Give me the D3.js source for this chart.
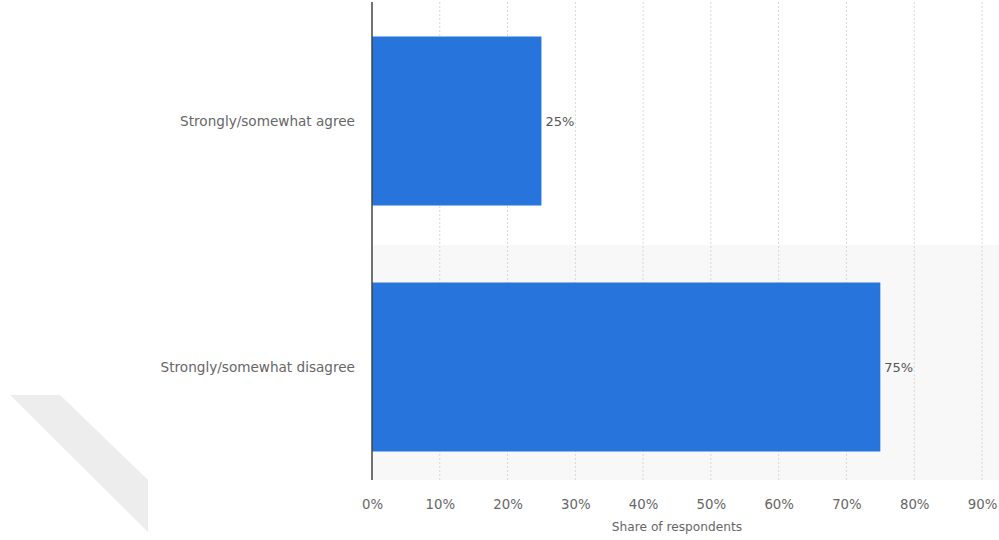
<!DOCTYPE html>
<html><head><meta charset="utf-8">
<script src="https://cdn.jsdelivr.net/npm/d3@7"></script>
<style>body{margin:0;background:#fff;}svg{display:block;font-family:"DejaVu Sans",sans-serif;}</style>
</head><body><svg id="c" width="999" height="540"></svg>
<script>
const categories = ["Strongly/somewhat agree", "Strongly/somewhat disagree"];
const values = [25, 75];
const ticks = [0,10,20,30,40,50,60,70,80,90];
const axisTitle = "Share of respondents";

const svg = d3.select("#c");
const m = {left:372, right:982, top:2, bottom:480};
const x = d3.scaleLinear().domain([0,90]).range([m.left, m.right]);
const y = d3.scaleBand().domain(categories).range([-2, 490]).paddingInner(0).paddingOuter(0);
const barH = 169;
const FONT = "'DejaVu Sans',sans-serif";

// watermark
svg.append("polygon").attr("points","10,395 60,395 148,480 148,532").attr("fill","#ededed");

// alternating band
svg.selectAll("rect.band").data(categories.filter((d,i)=>i%2===1)).enter().append("rect")
  .attr("x", m.left).attr("y", d=>y(d)+1).attr("width", 999-m.left).attr("height", d=>m.bottom-y(d)-1)
  .attr("fill","#f8f8f8");

// grid
svg.selectAll("line.grid").data(ticks.slice(1)).enter().append("line")
  .attr("x1", d=>x(d)).attr("x2", d=>x(d)).attr("y1", m.top).attr("y2", m.bottom)
  .attr("stroke","#d8d8d8").attr("stroke-dasharray","2,2").attr("stroke-width",1);

// bars
svg.selectAll("rect.bar").data(values).enter().append("rect")
  .attr("x", x(0)).attr("y", (d,i)=>y(categories[i])+(y.bandwidth()-barH)/2)
  .attr("width", d=>x(d)-x(0)).attr("height", barH)
  .attr("fill","#2775dc");

// value labels
svg.selectAll("text.val").data(values).enter().append("text")
  .attr("x", d=>x(d)+4).attr("y", (d,i)=>y(categories[i])+y.bandwidth()/2)
  .attr("dy","0.35em").attr("font-size",13).attr("fill","#555").text(d=>d+"%");

// axis line
svg.append("line").attr("x1",m.left).attr("x2",m.left).attr("y1",m.top).attr("y2",m.bottom)
  .attr("stroke","#444").attr("stroke-width",1.5);

// category labels
svg.selectAll("text.cat").data(categories).enter().append("text")
  .attr("x", 355).attr("y", d=>y(d)+y.bandwidth()/2).attr("dy","0.35em")
  .attr("text-anchor","end").attr("font-size",13.6).attr("fill","#666").text(d=>d);

// x tick labels
const xa = d3.axisBottom(x).tickValues(ticks).tickFormat(d=>d+"%").tickSize(0).tickPadding(0);
const g = svg.append("g").attr("transform",`translate(0,${m.bottom+20})`).call(xa);
g.select(".domain").remove();
g.selectAll("text").attr("font-size",13.3).attr("fill","#666").attr("font-family",FONT);

svg.append("text").attr("x", (x(0)+x(90))/2).attr("y", 531).attr("text-anchor","middle")
  .attr("font-size",12.2).attr("fill","#666").text(axisTitle);
</script></body></html>
